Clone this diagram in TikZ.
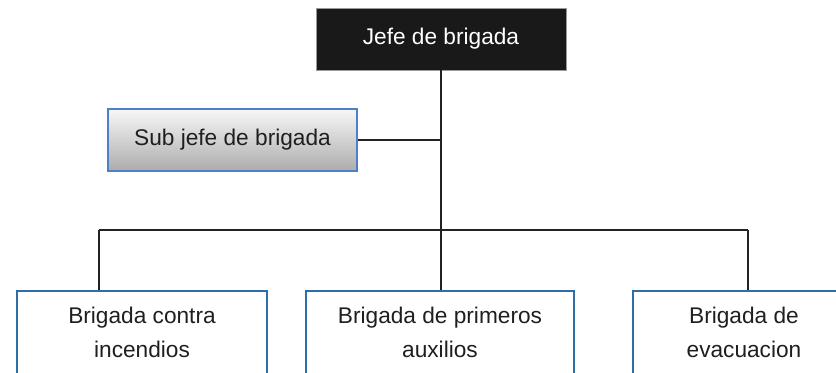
\documentclass[tikz,border=0pt]{standalone}
\usepackage{fontspec}
\setmainfont{Liberation Sans}
\usetikzlibrary{positioning}

\definecolor{boxblue}{HTML}{2E6DA8}
\definecolor{subblue}{HTML}{4F7FC6}
\definecolor{linegray}{HTML}{222222}

\begin{document}
\begin{tikzpicture}[x=0.75pt,y=-0.75pt,font=\fontsize{17}{26}\selectfont]
\tikzstyle{jefebox}=[draw=gray!80, fill=black!90, text=white, rectangle, minimum width=187.5pt, minimum height=46.5pt]
\tikzstyle{subbox}=[draw=subblue, thick, rectangle, top color=gray!6, bottom color=gray!65, text=black!88, minimum width=186.75pt, minimum height=46.5pt]
\tikzstyle{brigbox}=[draw=boxblue, thick, rectangle, align=center, text=black!88, minimum height=62.25pt]
\tikzstyle{link}=[draw=linegray, line width=1.1pt]

\path[use as bounding box, clip] (0,0) rectangle (836,373);

% Jefe block
\node[jefebox] (jefe) at (441,39) {Jefe de brigada};

% Sub jefe block
\node[subbox] (subjefe) at (232.5,140) {Sub jefe de brigada};

% brigadas
\node[brigbox, minimum width=187.5pt] (incendios) at (142,332.5) {Brigada contra\\incendios};
\node[brigbox, minimum width=201pt] (auxilios) at (440,332.5) {Brigada de primeros\\auxilios};
\node[brigbox, minimum width=166.5pt] (evacuacion) at (744,332.5) {Brigada de\\evacuacion};

% bus ends
\coordinate (busL) at (99,230);
\coordinate (busR) at (748,230);

% connectors
\draw[link] (jefe.south) -- (jefe.south |- auxilios.north);
\draw[link] (subjefe.east) -- (subjefe.east -| jefe.south);
\draw[link] (busL) -- (busR);
\draw[link] (busL) -- (busL |- incendios.north);
\draw[link] (busR) -- (busR |- evacuacion.north);

\end{tikzpicture}
\end{document}
